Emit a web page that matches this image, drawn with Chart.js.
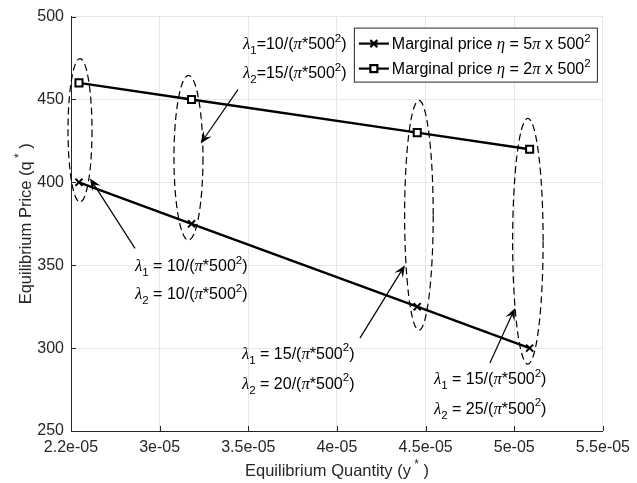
<!DOCTYPE html>
<html>
<head>
<meta charset="utf-8">
<script src="https://cdn.jsdelivr.net/npm/chart.js@4"></script>
<style>
  html, body { margin: 0; padding: 0; background: #fff; }
  #wrap { width: 637px; height: 483px; }
</style>
</head>
<body>
<div id="wrap"><canvas id="priceChart" width="637" height="483"></canvas></div>
<script>
// equilibrium quantity / price for the two marginal price settings
const quantity = [2.545e-5, 3.18e-5, 4.453e-5, 5.087e-5];
const priceEta5 = [400, 375, 325, 300];
const priceEta2 = [460, 450, 430, 420];

// axis ticks
const xTickValues = [2.5e-5, 3e-5, 3.5e-5, 4e-5, 4.5e-5, 5e-5, 5.5e-5];
const xTickLabels = ["2.2e-05", "3e-05", "3.5e-05", "4e-05", "4.5e-05", "5e-05", "5.5e-05"];
const yTickValues = [250, 300, 350, 400, 450, 500];

// lambda pairs written next to each group of points
const lambda1 = [10, 10, 15, 15];
const lambda2 = [15, 10, 20, 25];
const etaFactor = [5, 2];

// dashed ellipses round each group (data units)
const ellipses = [
  { x: 2.5508e-5, halfWidth: 0.0677e-5, top: 474.7, bottom: 388.0 },
  { x: 3.1626e-5, halfWidth: 0.0818e-5, top: 464.5, bottom: 365.1 },
  { x: 4.4624e-5, halfWidth: 0.0806e-5, top: 449.4, bottom: 310.8 },
  { x: 5.0770e-5, halfWidth: 0.0860e-5, top: 438.6, bottom: 290.4 },
];

// arrows from text to ellipse (data units)
const arrows = [
  { x0: 3.4417e-5, y0: 456.0, x1: 3.2314e-5, y1: 423.5 },
  { x0: 2.8609e-5, y0: 360.2, x1: 2.6071e-5, y1: 402.4 },
  { x0: 4.1297e-5, y0: 306.0, x1: 4.3835e-5, y1: 350.0 },
  { x0: 4.8628e-5, y0: 290.96, x1: 5.0038e-5, y1: 324.1 },
];

// label anchors: left edge and middle of each line (data units)
const labelAnchors = [
  { x: 3.4699e-5, y1: 483.7, y2: 466.3, tight: true },
  { x: 2.8609e-5, y1: 350.0, y2: 333.1, tight: false },
  { x: 3.4643e-5, y1: 297.0, y2: 278.9, tight: false },
  { x: 4.5470e-5, y1: 281.9, y2: 263.9, tight: false },
];

const FONT = '"Liberation Sans", Arial, Helvetica, sans-serif';
const SERIF = '"Liberation Serif", "Times New Roman", serif';
const TXT = 16;
const TITLE = 16.5;
const INK = "#262626";

// ── rich text: normal, greek, sub and superscript runs ─────
function segFont(kind, size) {
  if (kind === "g") return "italic " + size * 1.05 + "px " + SERIF;
  if (kind === "sub" || kind === "sup") return size * 0.72 + "px " + FONT;
  return size + "px " + FONT;
}

function richWidth(ctx, segs, size) {
  let w = 0;
  segs.forEach(function (s) {
    ctx.font = segFont(s[0], size);
    w += ctx.measureText(s[1]).width;
  });
  return w;
}

function drawRich(ctx, segs, x, y, size, align) {
  let cx = align === "center" ? x - richWidth(ctx, segs, size) / 2 : x;
  const base = y + size * 0.35;
  ctx.textBaseline = "alphabetic";
  ctx.textAlign = "left";
  segs.forEach(function (s) {
    ctx.font = segFont(s[0], size);
    let by = base;
    if (s[0] === "sub") by = base + size * 0.32;
    if (s[0] === "sup") by = base - size * 0.45;
    ctx.fillText(s[1], cx, by);
    cx += ctx.measureText(s[1]).width;
  });
}

function lambdaLine(idx, value, tight) {
  const eq = tight ? "=" : " = ";
  return [["g", "\u03bb"], ["sub", String(idx)], ["n", eq + value + "/("], ["g", "\u03c0"],
          ["n", "*500"], ["sup", "2"], ["n", ")"]];
}

function drawArrow(ctx, x0, y0, x1, y1) {
  const dx = x1 - x0, dy = y1 - y0;
  const len = Math.hypot(dx, dy);
  const ux = dx / len, uy = dy / len;
  const nx = -uy, ny = ux;
  const L = 12, W = 5;
  ctx.beginPath();
  ctx.moveTo(x0, y0);
  ctx.lineTo(x1 - ux * L * 0.6, y1 - uy * L * 0.6);
  ctx.stroke();
  ctx.beginPath();
  ctx.moveTo(x1, y1);
  ctx.lineTo(x1 - ux * L + nx * W, y1 - uy * L + ny * W);
  ctx.lineTo(x1 - ux * L * 0.6, y1 - uy * L * 0.6);
  ctx.lineTo(x1 - ux * L - nx * W, y1 - uy * L - ny * W);
  ctx.closePath();
  ctx.fill();
}

const overlay = {
  id: "overlay",
  afterDraw(chart) {
    const ctx = chart.ctx;
    const xs = chart.scales.x, ys = chart.scales.y;
    const area = chart.chartArea;
    ctx.save();

    // inward ticks
    ctx.strokeStyle = INK;
    ctx.lineWidth = 1;
    ctx.beginPath();
    xTickValues.forEach(function (v) {
      const px = Math.round(xs.getPixelForValue(v)) + 0.5;
      ctx.moveTo(px, area.bottom);
      ctx.lineTo(px, area.bottom - 5);
    });
    yTickValues.forEach(function (v) {
      const py = Math.round(ys.getPixelForValue(v)) + 0.5;
      ctx.moveTo(area.left, py);
      ctx.lineTo(area.left + 5, py);
    });
    ctx.stroke();

    // dashed ellipses
    ctx.strokeStyle = "#000";
    ctx.lineWidth = 1.2;
    ctx.setLineDash([7, 4]);
    ellipses.forEach(function (e) {
      const cx = xs.getPixelForValue(e.x);
      const rx = xs.getPixelForValue(e.x + e.halfWidth) - cx;
      const top = ys.getPixelForValue(e.top), bot = ys.getPixelForValue(e.bottom);
      ctx.beginPath();
      ctx.ellipse(cx, (top + bot) / 2, rx, (bot - top) / 2, 0, 0, Math.PI * 2);
      ctx.stroke();
    });
    ctx.setLineDash([]);

    // arrows
    ctx.fillStyle = "#000";
    arrows.forEach(function (a) {
      drawArrow(ctx, xs.getPixelForValue(a.x0), ys.getPixelForValue(a.y0),
                xs.getPixelForValue(a.x1), ys.getPixelForValue(a.y1));
    });

    // lambda labels
    ctx.fillStyle = "#000";
    labelAnchors.forEach(function (l, i) {
      const px = xs.getPixelForValue(l.x);
      drawRich(ctx, lambdaLine(1, lambda1[i], l.tight), px, ys.getPixelForValue(l.y1), TXT);
      drawRich(ctx, lambdaLine(2, lambda2[i], l.tight), px, ys.getPixelForValue(l.y2), TXT);
    });

    // legend box
    const bx = area.right - 249, by = area.top + 11, bw = 243, bh = 54;
    ctx.fillStyle = "#fff";
    ctx.fillRect(bx, by, bw, bh);
    ctx.strokeStyle = INK;
    ctx.lineWidth = 1;
    ctx.strokeRect(bx + 0.5, by + 0.5, bw, bh);
    [0, 1].forEach(function (row) {
      const ry = by + 16 + row * 25;
      const mx = bx + 20;
      ctx.strokeStyle = "#000";
      ctx.lineWidth = 2.2;
      ctx.beginPath();
      ctx.moveTo(bx + 5, ry);
      ctx.lineTo(bx + 35, ry);
      ctx.stroke();
      if (row === 0) {
        ctx.beginPath();
        ctx.moveTo(mx - 3.5, ry - 3.5); ctx.lineTo(mx + 3.5, ry + 3.5);
        ctx.moveTo(mx + 3.5, ry - 3.5); ctx.lineTo(mx - 3.5, ry + 3.5);
        ctx.stroke();
      } else {
        ctx.fillStyle = "#fff";
        ctx.fillRect(mx - 3.5, ry - 3.5, 7, 7);
        ctx.strokeRect(mx - 3.5, ry - 3.5, 7, 7);
      }
      ctx.fillStyle = "#000";
      drawRich(ctx, [["n", "Marginal price "], ["g", "\u03b7"], ["n", " = " + etaFactor[row]],
                     ["g", "\u03c0"], ["n", " x 500"], ["sup", "2"]], bx + 38, ry, TXT);
    });

    // axis titles
    ctx.fillStyle = INK;
    drawRich(ctx, [["n", "Equilibrium Quantity (y"], ["sup", " *"], ["n", " )"]],
             (area.left + area.right) / 2, 470, TITLE, "center");
    ctx.translate(25, (area.top + area.bottom) / 2);
    ctx.rotate(-Math.PI / 2);
    drawRich(ctx, [["n", "Equilibrium Price (q"], ["sup", " *"], ["n", " )"]],
             0, 0, TITLE, "center");
    ctx.restore();
  },
};

const priceCtx = document.getElementById("priceChart");

new Chart(priceCtx, {
  type: "scatter",
  data: {
    datasets: [
      {
        label: "eta5",
        data: quantity.map(function (q, i) { return { x: q, y: priceEta5[i] }; }),
        showLine: true,
        borderColor: "#000",
        borderWidth: 2.4,
        pointStyle: "crossRot",
        pointRadius: 5,
        pointBorderWidth: 2,
        pointBorderColor: "#000",
      },
      {
        label: "eta2",
        data: quantity.map(function (q, i) { return { x: q, y: priceEta2[i] }; }),
        showLine: true,
        borderColor: "#000",
        borderWidth: 2.4,
        pointStyle: "rect",
        pointRadius: 5,
        pointBorderWidth: 2,
        pointBorderColor: "#000",
        pointBackgroundColor: "#fff",
      },
    ],
  },
  options: {
    responsive: false,
    animation: false,
    layout: { padding: { top: 16, right: 34, left: 0, bottom: 0 } },
    plugins: { legend: { display: false }, tooltip: { enabled: false } },
    scales: {
      x: {
        type: "linear",
        min: 2.5e-5,
        max: 5.5e-5,
        afterBuildTicks: function (scale) {
          scale.ticks = xTickValues.map(function (v) { return { value: v }; });
        },
        afterFit: function (scale) { scale.height = 52; },
        ticks: {
          color: INK,
          font: { family: FONT, size: TXT },
          padding: 7,
          maxRotation: 0,
          callback: function (v, i) { return xTickLabels[i]; },
        },
        grid: { color: "#e6e6e6", drawTicks: false },
        border: { color: INK, width: 1 },
      },
      y: {
        min: 250,
        max: 500,
        afterBuildTicks: function (scale) {
          scale.ticks = yTickValues.map(function (v) { return { value: v }; });
        },
        afterFit: function (scale) { scale.width = 71; },
        ticks: {
          color: INK,
          font: { family: FONT, size: TXT },
          padding: 7,
        },
        grid: { color: "#e6e6e6", drawTicks: false },
        border: { color: INK, width: 1 },
      },
    },
  },
  plugins: [overlay],
});
</script>
</body>
</html>
